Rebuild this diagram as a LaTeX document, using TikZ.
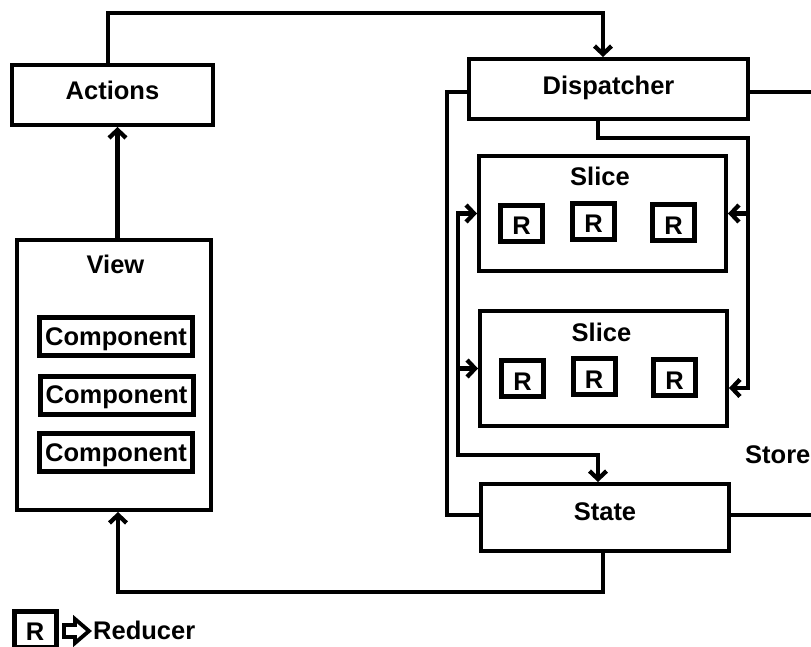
\documentclass[tikz,border=0pt]{standalone}
\usepackage{fontspec}
\setmainfont{Liberation Sans}
\usetikzlibrary{arrows.meta}
\begin{document}
\begin{tikzpicture}[x=1pt,y=-1pt,
  lbl/.style={font=\fontsize{25.5pt}{28pt}\selectfont\bfseries, inner sep=0pt},
  box/.style={draw, line width=4.3pt, inner sep=0pt, lbl},
  comp/.style={draw, line width=5pt, minimum width=153pt, minimum height=38pt,
    inner sep=0pt, lbl, text height=17pt, text depth=0pt},
  rbox/.style={draw, line width=5pt, minimum width=42pt, minimum height=36pt,
    inner sep=0pt, lbl, text height=23pt, text depth=0pt},
  wire/.style={line width=4.3pt},
  barb/.tip={Straight Barb[length=8pt,width=17pt]},
  flow/.style={wire, -barb},
  flowboth/.style={wire, barb-barb},
]
\useasboundingbox (0,0) rectangle (811,647);
\clip (0,0) rectangle (811,647);

% --- left column: actions and view ---
\node[box, minimum width=200.7pt, minimum height=59.7pt, text height=10pt, text depth=0pt]
  (actions) at (112.5,95) {Actions};
\node[box, minimum width=193.7pt, minimum height=269.7pt] (view) at (114,375) {};
\node[lbl, anchor=base] (viewlbl) at (115.5,273) {View};
\node[comp] (comp1) at (116,336.5) {Component};
\node[comp] (comp2) at (116.5,395) {Component};
\node[comp] (comp3) at (116,452.5) {Component};

% --- right column: the store ---
\node[box, minimum width=278.7pt, minimum height=59.7pt, text height=12pt, text depth=0pt]
  (dispatcher) at (608.5,89) {Dispatcher};

\node[box, minimum width=246.7pt, minimum height=114.7pt] (slice1) at (602.5,213.5) {};
\node[lbl, anchor=base] (slice1lbl) at (600,186) {Slice};
\node[rbox] (r11) at (521.5,223.5) {R};
\node[rbox] (r12) at (593.5,221.5) {R};
\node[rbox] (r13) at (673.5,222.5) {R};

\node[box, minimum width=246.7pt, minimum height=114.7pt] (slice2) at (603.5,368.5) {};
\node[lbl, anchor=base] (slice2lbl) at (601.5,341) {Slice};
\node[rbox] (r21) at (522.5,378.5) {R};
\node[rbox] (r22) at (594,376.5) {R};
\node[rbox] (r23) at (674.5,377.5) {R};

\node[box, minimum width=247.7pt, minimum height=66.7pt, text height=5pt, text depth=0pt]
  (state) at (605,517.5) {State};

\node[lbl, anchor=base west] (storelbl) at (745,463) {Store};

% --- legend ---
\node[rbox, text height=21pt] (legr) at (35,629.5) {R};
\node[lbl, anchor=base west] (legtxt) at (93,639) {Reducer};
\draw[line width=3.8pt, line join=miter]
  (64,625) -- (75,625) -- (75,619) -- (89,631) -- (75,643) -- (75,637) -- (64,637) -- cycle;

% --- routing points ---
\coordinate (topR) at (603,13);
\coordinate (vup)  at (117.5,0);
\coordinate (stL)  at (447,515);
\coordinate (stR1) at (812,92);
\coordinate (stR2) at (812,515);
\coordinate (dS)   at (598,0);
\coordinate (dR1)  at (748,138);
\coordinate (dR2)  at (748,388);
\coordinate (lF)   at (458,455);
\coordinate (sB)   at (118,592);

% --- connectors ---
\draw[flow] ([xshift=-4.5pt]actions.north) |- (topR) -- (topR |- dispatcher.north);
\draw[flow] (vup |- view.north) -- (vup |- actions.south);

% store bracket
\draw[wire] ([yshift=-3pt]dispatcher.west) -| (stL) -- (stL -| state.west);
\draw[wire] (stR1 -| dispatcher.east) -- (stR1);
\draw[wire] (stR2 -| state.east) -- (stR2);

% dispatcher to the slices
\draw[flow] (dS |- dispatcher.south) |- (dR1) -- (dR2) -- (dR2 -| slice2.east);
\draw[flow] (dR1 |- slice1.east) -- (slice1.east);

% state fed back into the slices
\draw[flowboth] (slice1.west) -| (lF) -| (dS |- state.north);
\draw[flow] (lF |- slice2.west) -- (slice2.west);

% state to the view
\draw[flow] ([xshift=-2pt]state.south) |- (sB) -- (sB |- view.south);
\end{tikzpicture}
\end{document}
